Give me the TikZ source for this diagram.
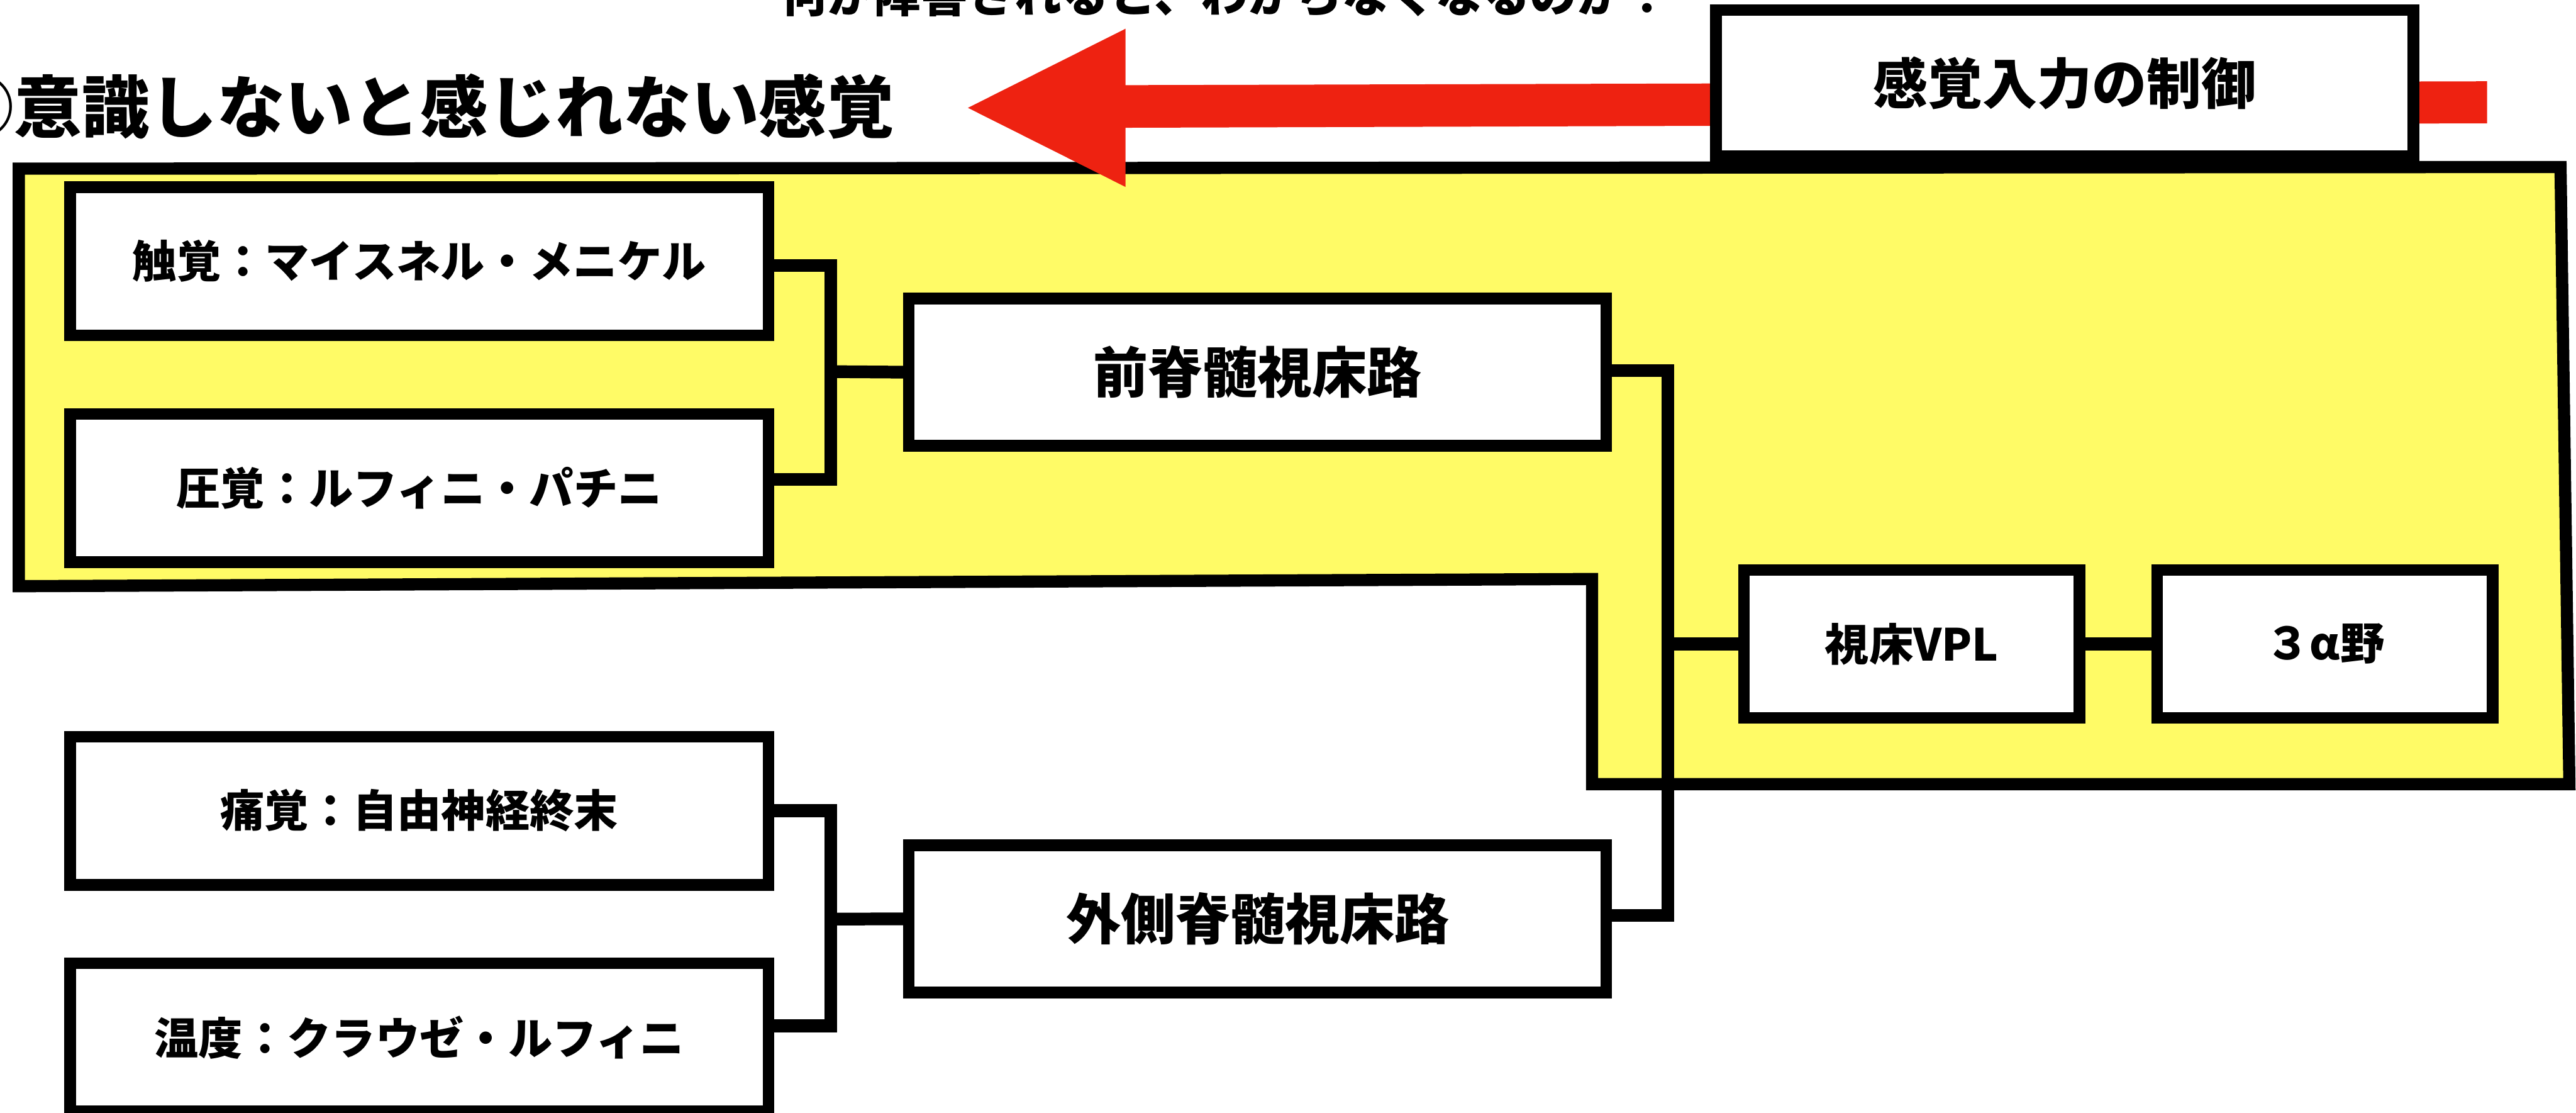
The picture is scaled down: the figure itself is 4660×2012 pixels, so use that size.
\documentclass[tikz,border=0pt]{standalone}
\usepackage{fontspec}
\setmainfont{Noto Sans CJK JP}
\definecolor{hlyellow}{RGB}{255,251,102}
\definecolor{arrowred}{RGB}{238,34,17}
\tikzset{
  region/.style={fill=hlyellow, draw=black, line width=2.2pt, line join=miter},
  basebox/.style={rectangle, draw=black, fill=white, line width=2.1pt, inner sep=0pt},
  sidebox/.style={basebox, minimum width=126.3pt, minimum height=26.8pt,
    font=\bfseries\fontsize{8}{8}\selectfont},
  tractbox/.style={basebox, minimum width=126.2pt, minimum height=26.6pt,
    font=\bfseries\fontsize{9.9}{9.9}\selectfont},
  smallbox/.style={basebox, minimum width=60.7pt, minimum height=26.7pt,
    font=\bfseries\fontsize{8}{8}\selectfont},
  conn/.style={draw=black, line width=2.3pt, line join=miter},
}
\begin{document}
\begin{tikzpicture}[x=0.1pt, y=-0.1pt]
\useasboundingbox (0,0) rectangle (4660,2012);
\clip (0,0) rectangle (4660,2012);

% yellow region
\draw[region] (34,305) -- (4632,302) -- (4648,1418) -- (2880,1418) -- (2880,1047) -- (34,1060) -- cycle;

% boxes
\node[sidebox] (touch) at (758.5,472.5) {触覚：マイスネル・メニケル};
\node[sidebox] (press) at (758.5,882.5) {圧覚：ルフィニ・パチニ};
\node[sidebox] (pain)  at (758.5,1466) {痛覚：自由神経終末};
\node[sidebox] (temp)  at (758.5,1876) {温度：クラウゼ・ルフィニ};
\node[tractbox] (ant)  at (2275,673) {前脊髄視床路};
\node[tractbox] (lat)  at (2275,1661.5) {外側脊髄視床路};
\node[smallbox] (vpl)  at (3458.5,1164.5) {視床VPL};
\node[smallbox] (area) at (4206,1164.5) {３α野};

% connectors
\coordinate (j1) at (1503,672);
\draw[conn] ([yshift=-0.75pt]touch.east) -| (j1) |- ([yshift=1.6pt]press.east);
\draw[conn] (j1) -- (ant.west);
\coordinate (j2) at (1503,1662);
\draw[conn] (pain.east) -| (j2) |- ([yshift=2.1pt]temp.east);
\draw[conn] (j2) -- (lat.west);
\coordinate (j3) at (3017,1164.5);
\draw[conn] ([yshift=0.3pt]ant.east) -| (j3) |- ([yshift=0.6pt]lat.east);
\draw[conn] (j3) -- (vpl.west);
\draw[conn] (vpl.east) -- (area.west);

% big red arrow
\fill[arrowred] (1751,195) -- (2036,52) -- (2036,154) -- (4499,147) -- (4499,223) -- (2036,231) -- (2036,338) -- cycle;

% control box
\node[tractbox, minimum height=26.4pt] (ctrl) at (3735,150) {感覚入力の制御};

% texts
\node[anchor=east, inner sep=0pt, font=\bfseries\fontsize{12.25}{12.25}\selectfont] (title) at (1620,192) {①意識しないと感じれない感覚};
\node[inner sep=0pt, font=\bfseries\fontsize{8.5}{8.5}\selectfont] (question) at (2217,-11) {何が障害されると、わからなくなるのか？};
\end{tikzpicture}
\end{document}
